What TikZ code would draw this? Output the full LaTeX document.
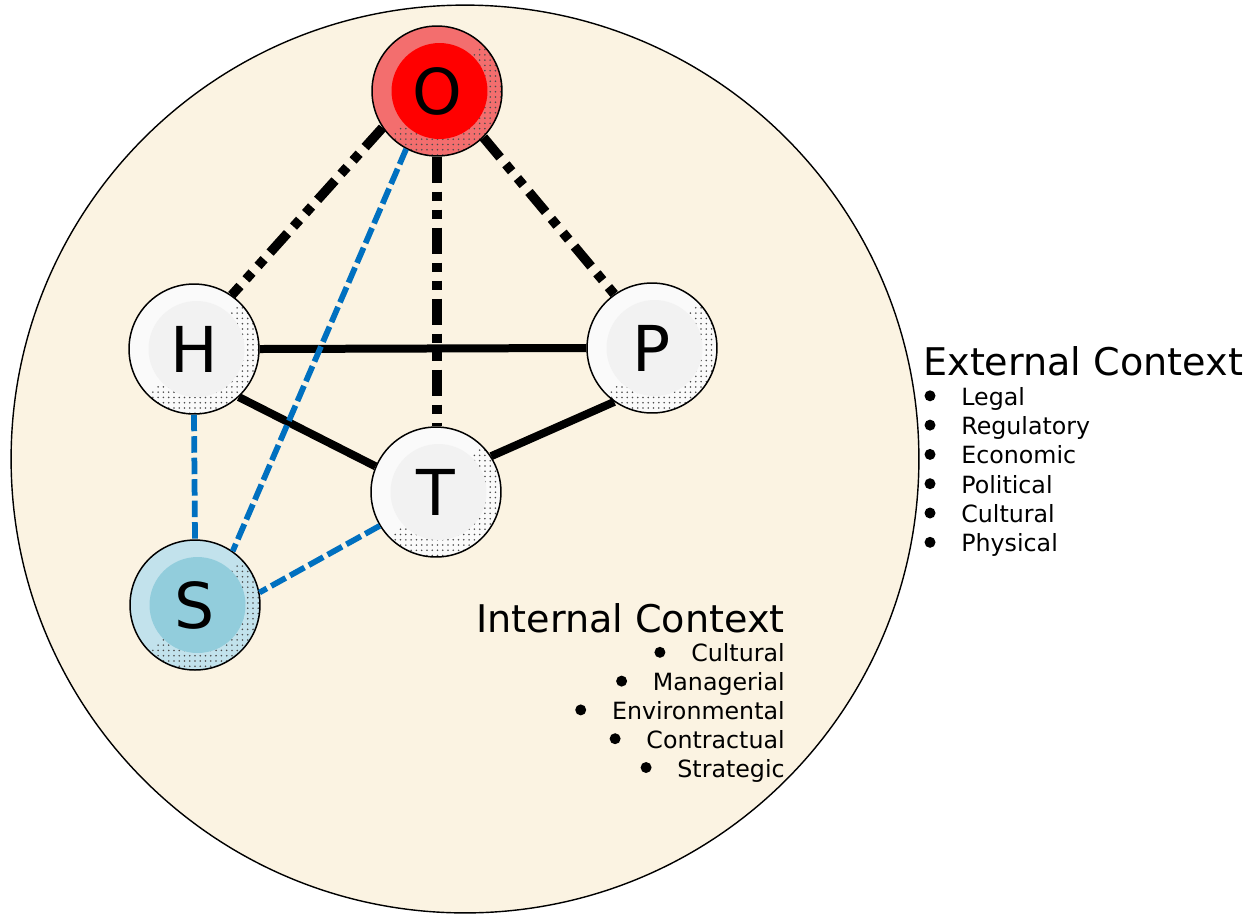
\documentclass[tikz,border=0pt]{standalone}
\usepackage{fontspec}
\setmainfont{DejaVu Sans}
\usetikzlibrary{patterns}
\usetikzlibrary{calc,positioning}

\definecolor{ctxcream}{RGB}{251,243,226}
\definecolor{linkblue}{RGB}{0,112,192}
\definecolor{orgcore}{RGB}{255,0,0}
\definecolor{orgrim}{RGB}{243,110,110}
\definecolor{stkcore}{RGB}{146,205,220}
\definecolor{stkrim}{RGB}{194,226,236}
\definecolor{wcore}{RGB}{242,242,242}
\definecolor{wrim}{RGB}{250,250,250}

\tikzset{
  ball/.style 2 args={circle, draw=black, line width=0.85pt, minimum size=2.6cm, inner sep=0pt, fill=#2,
    font=\fontsize{36}{36}\selectfont,
    path picture={
      \begin{scope}
        \clip (path picture bounding box.north east) -- (path picture bounding box.south east)
          -- (path picture bounding box.south west) -- cycle;
        \fill[pattern=dots, pattern color=black!70] (path picture bounding box.center) circle (1.4cm);
      \end{scope}
      \fill[#1] ([xshift=0.05cm]path picture bounding box.center) circle (0.96cm);
    }},
  ctrl/.style={line width=0.19cm, dash pattern=on 0.52cm off 0.18cm on 0.18cm off 0.18cm on 0.18cm off 0.18cm},
  bond/.style={line width=0.16cm},
  stake/.style={line width=0.115cm, linkblue, dash pattern=on 0.33cm off 0.1cm},
  ctxhead/.style={font=\fontsize{21.7}{25}\selectfont, inner sep=0pt},
  ctxitem/.style={font=\fontsize{13.5}{16}\selectfont, inner sep=0pt},
}

\begin{document}
\begin{tikzpicture}[x=0.02cm, y=-0.02cm]
    \useasboundingbox (0,0) rectangle (1247,914);
    % context circle
    \draw[fill=ctxcream, line width=0.8pt] (465,459) circle (9.08cm);

    \node[ball={orgcore}{orgrim}] (O) at (437,91) {O};
    \node[ball={wcore}{wrim}] (H) at (194,349) {H};
    \node[ball={wcore}{wrim}] (P) at (652,348) {P};
    \node[ball={wcore}{wrim}] (T) at (436,492) {T};
    \node[ball={stkcore}{stkrim}] (S) at (195,605) {S};

    \draw[ctrl] (O.214) -- (H.55);
    \draw[ctrl] (O.south) -- (O.south |- T.north);
    \draw[ctrl] (O.-45) -- (P.125);

    \draw[bond] (H.east) -- (P.west);
    \draw[bond] (H.-47) -- (T.157);
    \draw[bond] (T.33) -- (P.235);

    \draw[stake] (H.south) -- (S.north);
    \draw[stake] (O.242) -- (S.55);
    \draw[stake] (T.211) -- (S.11);

    % external context
    \node[ctxhead, anchor=base west] (ext) at (923,375) {External Context};
    \foreach \txt [count=\i] in {Legal,Regulatory,Economic,Political,Cultural,Physical}{
        \node[ctxitem, anchor=base west] (ext\i) at ({961},{376+29.3*\i}) {\txt};
        \fill ([shift={(-31,-9.5)}]ext\i.base west) circle (0.11cm);
    }

    % internal context
    \node[ctxhead, anchor=base east] (int) at (785,632) {Internal Context};
    \foreach \txt [count=\i] in {Cultural,Managerial,Environmental,Contractual,Strategic}{
        \node[ctxitem, anchor=base east] (int\i) at ({785},{633+28.8*\i}) {\txt};
        \fill ([shift={(-31,-9.5)}]int\i.base west) circle (0.11cm);
    }
\end{tikzpicture}
\end{document}
